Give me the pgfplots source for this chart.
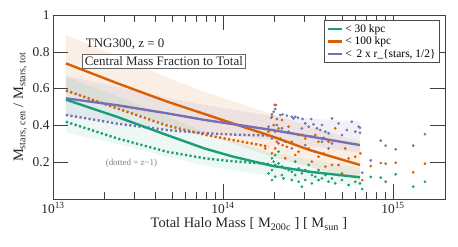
\documentclass[border=0pt]{standalone}
\usepackage{fontspec}
\setmainfont{Liberation Serif}
\usepackage{pgfplots}
\pgfplotsset{compat=1.18}
\definecolor{cgreen}{HTML}{1B9E77}
\definecolor{corange}{HTML}{D95F02}
\definecolor{cpurple}{HTML}{7570B3}
\begin{document}
\begin{tikzpicture}
\begin{axis}[
  scale only axis, width=392bp, height=184bp,
  xmin=13, xmax=15.306, ymin=0, ymax=1,
  xtick={13,14,15},
  xticklabels={10\textsuperscript{13},10\textsuperscript{14},10\textsuperscript{15}},
  minor xtick={13.301,13.477,13.602,13.699,13.778,13.845,13.903,13.954,14.301,14.477,14.602,14.699,14.778,14.845,14.903,14.954},
  ytick={0.2,0.4,0.6,0.8,1},
  yticklabels={0.2,0.4,0.6,0.8,1},
  major tick length=15bp, minor tick length=7bp,
  every tick/.style={black!75, line width=0.6pt},
  axis line style={black!75, line width=0.8pt},
  tick label style={font=\fontsize{13.5}{15}\selectfont, black!85},
  xlabel={Total Halo Mass [ M\textsubscript{200c} ] [ M\textsubscript{sun} ]},
  ylabel={M\textsubscript{stars, cen} / M\textsubscript{stars, tot}},
  label style={font=\fontsize{14.5}{16}\selectfont, black!85},
  xlabel style={yshift=3bp},
  ylabel style={yshift=-1bp},
  legend style={at={(rel axis cs:0.987,0.973)}, anchor=north east, draw=black!70, line width=0.6pt,
    font=\fontsize{11.5}{13}\selectfont, row sep=-1pt, inner sep=2pt},
  legend cell align=left,
  legend image code/.code={\draw[#1, line width=2.4pt] (0cm,0cm) -- (0.5cm,0cm);},
]
\coordinate (sw) at (rel axis cs:0,0);
% bands
\addplot[draw=none, fill=corange, fill opacity=0.10, forget plot] coordinates {
 (13.076,0.89) (13.375,0.78) (13.669,0.66) (13.9,0.58) (14.29,0.46) (14.806,0.31)
 (14.806,0.10) (14.29,0.23) (13.9,0.35) (13.669,0.41) (13.375,0.49) (13.076,0.58)} -- cycle;
\addplot[draw=none, fill=cpurple, fill opacity=0.10, forget plot] coordinates {
 (13.076,0.67) (13.375,0.61) (13.669,0.55) (13.9,0.51) (14.29,0.45) (14.806,0.42)
 (14.806,0.25) (14.29,0.32) (13.9,0.36) (13.669,0.38) (13.375,0.42) (13.076,0.45)} -- cycle;
\addplot[draw=none, fill=cgreen, fill opacity=0.08, forget plot] coordinates {
 (13.076,0.665) (13.375,0.56) (13.669,0.45) (13.9,0.36) (14.29,0.25) (14.806,0.17)
 (14.806,0.07) (14.29,0.12) (13.9,0.18) (13.669,0.23) (13.375,0.30) (13.076,0.36)} -- cycle;
% scatter
\addplot[only marks, mark=*, mark size=1.15pt, cpurple, forget plot] coordinates {
 (14.304,0.511) (14.307,0.489) (14.298,0.474) (14.288,0.460) (14.284,0.442) (14.317,0.435)
 (14.337,0.456) (14.351,0.460) (14.376,0.453) (14.405,0.447) (14.415,0.438) (14.425,0.447)
 (14.441,0.442) (14.468,0.435) (14.484,0.411) (14.504,0.393) (14.519,0.435) (14.533,0.406)
 (14.553,0.384) (14.572,0.375) (14.582,0.402) (14.602,0.366) (14.621,0.357) (14.641,0.438)
 (14.680,0.411) (14.729,0.375) (14.758,0.420) (14.798,0.393) (14.347,0.384) (14.386,0.366)
 (14.445,0.348) (14.523,0.339) (14.582,0.311) (14.621,0.275) (14.307,0.366) (14.288,0.329)
 (14.366,0.311) (14.484,0.293) (14.543,0.257) (14.405,0.275) (14.327,0.302) (14.700,0.348)
 (14.778,0.366) (14.268,0.393) (14.317,0.402) (14.464,0.384) (14.592,0.333) (14.641,0.302)
 (14.806,0.387) (14.806,0.360) (14.928,0.317) (14.957,0.290) (15.016,0.270) (15.119,0.290)
 (15.188,0.352) (14.869,0.210) (14.819,0.143)};
\addplot[only marks, mark=*, mark size=1.15pt, corange, forget plot] coordinates {
 (14.311,0.511) (14.288,0.447) (14.298,0.402) (14.327,0.384) (14.337,0.329) (14.249,0.275)
 (14.307,0.275) (14.351,0.293) (14.376,0.284) (14.405,0.311) (14.425,0.239) (14.445,0.257)
 (14.504,0.275) (14.523,0.203) (14.562,0.230) (14.592,0.248) (14.621,0.311) (14.641,0.185)
 (14.680,0.185) (14.700,0.139) (14.739,0.221) (14.778,0.230) (14.464,0.348) (14.347,0.429)
 (14.386,0.393) (14.562,0.311) (14.602,0.176) (14.660,0.384) (14.366,0.221) (14.288,0.248)
 (14.268,0.366) (14.484,0.329) (14.719,0.275) (14.543,0.348) (14.317,0.311)
 (14.808,0.248) (14.869,0.179) (14.928,0.196) (14.957,0.192) (15.016,0.197) (15.119,0.145)
 (15.188,0.192) (14.819,0.102)};
\addplot[only marks, mark=*, mark size=1.15pt, cgreen, forget plot] coordinates {
 (14.288,0.221) (14.298,0.203) (14.307,0.185) (14.317,0.176) (14.288,0.157) (14.268,0.139)
 (14.327,0.194) (14.347,0.176) (14.366,0.166) (14.386,0.157) (14.405,0.148) (14.425,0.130)
 (14.445,0.166) (14.464,0.139) (14.484,0.157) (14.504,0.148) (14.523,0.130) (14.543,0.121)
 (14.562,0.103) (14.582,0.112) (14.602,0.130) (14.621,0.094) (14.641,0.112) (14.660,0.085)
 (14.700,0.103) (14.739,0.076) (14.778,0.094) (14.307,0.121) (14.347,0.130) (14.405,0.103)
 (14.445,0.094) (14.484,0.103) (14.523,0.085) (14.464,0.067) (14.356,0.112) (14.307,0.239)
 (14.327,0.257) (14.425,0.203) (14.504,0.185) (14.562,0.157) (14.680,0.130) (14.288,0.103)
 (14.806,0.085) (14.869,0.120) (14.928,0.116) (14.957,0.094) (15.016,0.134) (15.119,0.067)
 (15.188,0.094) (14.819,0.054)};
% dotted z~1
\addplot[cgreen, line width=2.4pt, dash pattern=on 2.2pt off 2.4pt, forget plot] coordinates {
 (13.076,0.42) (13.375,0.33) (13.669,0.257) (13.9,0.22) (14.06,0.205) (14.27,0.19)};
\addplot[corange, line width=2.4pt, dash pattern=on 2.2pt off 2.4pt, forget plot] coordinates {
 (13.076,0.59) (13.375,0.493) (13.669,0.40) (13.9,0.348) (14.06,0.32) (14.27,0.285)};
\addplot[cpurple, line width=2.4pt, dash pattern=on 2.2pt off 2.4pt, forget plot] coordinates {
 (13.076,0.457) (13.375,0.41) (13.669,0.375) (13.9,0.357) (14.06,0.35) (14.27,0.345)};
% solid z=0
\addplot[cgreen, line width=2.4pt, forget plot] coordinates {
 (13.076,0.54) (13.375,0.447) (13.669,0.348) (13.89,0.275) (14.06,0.23) (14.29,0.18) (14.51,0.148) (14.806,0.118)};
\addplot[corange, line width=2.4pt, forget plot] coordinates {
 (13.076,0.737) (13.375,0.63) (13.669,0.53) (13.865,0.47) (14.06,0.41) (14.29,0.34) (14.51,0.266) (14.806,0.185)};
\addplot[cpurple, line width=2.4pt, forget plot] coordinates {
 (13.076,0.547) (13.375,0.51) (13.669,0.466) (13.89,0.43) (14.29,0.375) (14.51,0.34) (14.806,0.293)};
\addlegendimage{cgreen}\addlegendentry{< 30 kpc}
\addlegendimage{corange}\addlegendentry{< 100 kpc}
\addlegendimage{cpurple}\addlegendentry{<\ \,2 x r\_\{stars, 1/2\}}
\node[anchor=west, font=\fontsize{13}{15}\selectfont, text=black!85] at (rel axis cs:0.075,0.842) {TNG300, z = 0};
\node[anchor=west, draw=black!60, line width=0.6pt, fill=white, inner sep=2.5pt, font=\fontsize{13}{15}\selectfont, text=black!85] at (rel axis cs:0.074,0.747) {Central Mass Fraction to Total};
\node[font=\fontsize{9}{11}\selectfont, text=black!50] at (rel axis cs:0.20,0.196) {(dotted = z\textasciitilde 1)};
\end{axis}
\pgfresetboundingbox
\path (sw) ++(-53bp,-48bp) rectangle ++(458bp,247bp);
\end{tikzpicture}
\end{document}
